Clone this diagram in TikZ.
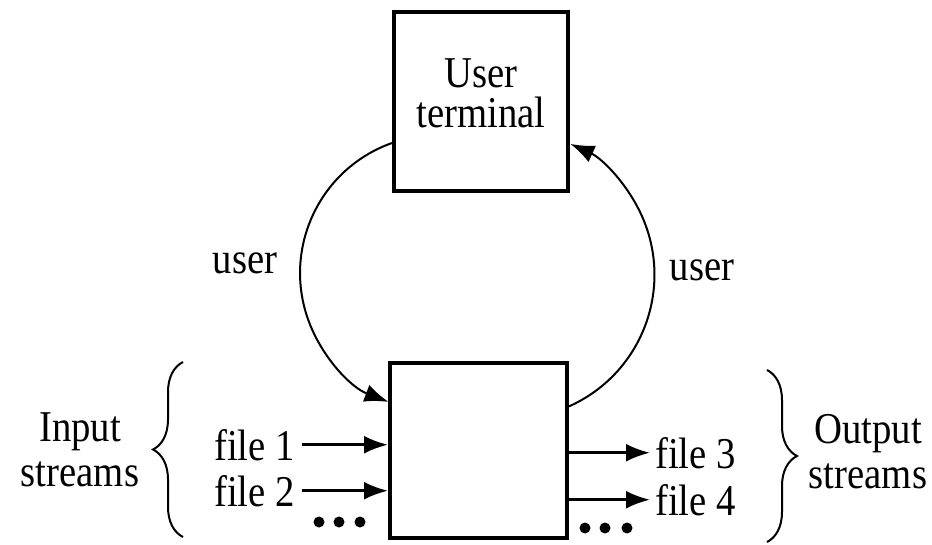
\documentclass[tikz,border=0pt]{standalone}
\usepackage{fontspec}
\setmainfont{Liberation Serif}[FakeStretch=0.88]
\usetikzlibrary{arrows.meta,decorations.pathreplacing}
\begin{document}
\begin{tikzpicture}[x=1pt,y=-1pt,
  box/.style={draw,line width=4pt,inner sep=0pt},
  lbl/.style={font=\fontsize{44}{45}\selectfont,inner sep=0pt},
  arcline/.style={line width=2pt,-{Latex[length=24pt,width=18pt]}},
  flow/.style={line width=2.8pt,-{Latex[length=24pt,width=18pt]}},
  brc/.style={line width=2pt,decorate,decoration={brace,amplitude=30pt}},
  dotmark/.style={circle,fill,inner sep=0pt,minimum size=11pt}]
\useasboundingbox (0,0) rectangle (932,545);
% boxes
\node[box,minimum width=174pt,minimum height=179pt] (term) at (481,101.5) {};
\node[lbl,align=center,font=\fontsize{44}{40}\selectfont] (termtxt) at (481,93) {User\\terminal};
\node[box,minimum width=177pt,minimum height=175pt] (proc) at (478.5,450.5) {};
% user arcs
\draw[arcline] (term.205.5) arc[start angle=109.5,end angle=249,radius=138pt];
\draw[arcline] (proc.26.2) arc[start angle=-66,end angle=65.4,radius=144pt];
\node[lbl] (userl) at (245,263) {user};
\node[lbl] (userr) at (702,270) {user};
% input streams
\node[lbl,anchor=base east] (f1) at (295,460) {file 1};
\node[lbl,anchor=base east] (f2) at (295,506) {file 2};
\draw[flow] ([xshift=7pt]f1.east) -- (f1.east -| proc.west);
\draw[flow] ([xshift=7pt]f2.east) -- (f2.east -| proc.west);
\node[dotmark] (dl1) at (319,522) {};
\node[dotmark] (dl2) at (339,522) {};
\node[dotmark] (dl3) at (360,522) {};
% output streams
\node[lbl,anchor=base west] (f3) at (655,468) {file 3};
\node[lbl,anchor=base west] (f4) at (655,515) {file 4};
\draw[flow] (f3.west -| proc.east) -- ([xshift=-5pt]f3.west);
\draw[flow] (f4.west -| proc.east) -- ([xshift=-5pt]f4.west);
\node[dotmark] (dr1) at (585,528) {};
\node[dotmark] (dr2) at (605,528) {};
\node[dotmark] (dr3) at (627,528) {};
% braces and labels
\coordinate (lb1) at (183,537);
\coordinate (lb2) at (183,362);
\coordinate (rb1) at (767,370);
\coordinate (rb2) at (767,542);
\draw[brc] (lb1) -- (lb2);
\draw[brc] (rb1) -- (rb2);
\node[lbl,align=center] (inp) at (80,450) {Input\\streams};
\node[lbl,align=center] (outp) at (868,452) {Output\\streams};
\end{tikzpicture}
\end{document}
